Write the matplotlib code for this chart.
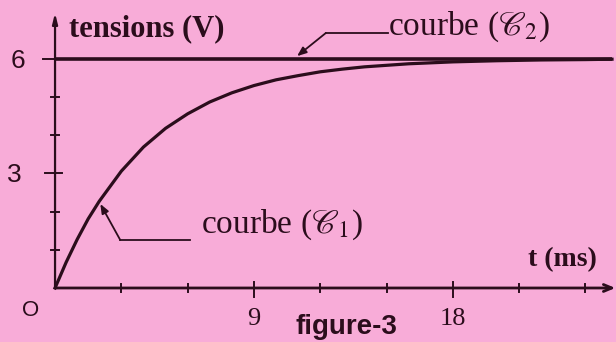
import matplotlib
matplotlib.use("Agg")
import matplotlib.pyplot as plt

# valeurs
t_c1 = [0, 0.5, 1, 1.5, 2, 3, 4, 5, 6, 7, 8, 9, 10, 11, 12, 13, 14, 15, 16, 18, 20, 22, 24, 25.2]
u_c1 = [0, 0.67, 1.27, 1.81, 2.27, 3.06, 3.69, 4.18, 4.56, 4.87, 5.11, 5.30, 5.45, 5.56,
        5.66, 5.73, 5.79, 5.83, 5.87, 5.92, 5.95, 5.97, 5.98, 5.99]
t_c2 = [0, 25.2]
u_c2 = [6, 6]

x_minor = [3, 6, 12, 15, 21, 24]
x_major = [9, 18]
x_labels = ["9", "18"]
y_minor = [1, 2, 4, 5]
y_major = [3, 6]
y_labels = ["3", "6"]

fond = "#f8acd8"
encre = "#2b0d1c"

plt.rcParams["mathtext.fontset"] = "stix"

fig = plt.figure(figsize=(6.16, 3.42), dpi=100)
fig.patch.set_facecolor(fond)
ax = fig.add_axes([0, 0, 1, 1])
ax.set_facecolor(fond)
ax.set_xlim(-2.49, 25.38)
ax.set_ylim(-1.414, 7.54)
ax.axis("off")

# axes avec fleches
ax.annotate("", xy=(0, 7.2), xytext=(0, 0),
            arrowprops=dict(arrowstyle="-|>,head_width=0.15,head_length=0.6",
                            color=encre, lw=1.6, shrinkA=0, shrinkB=0))
ax.annotate("", xy=(25.35, 0), xytext=(0, 0),
            arrowprops=dict(arrowstyle="->,head_width=0.25,head_length=0.6",
                            color=encre, lw=2.0, shrinkA=0, shrinkB=0))

# graduations
for xv in x_minor:
    ax.plot([xv, xv], [-0.1, 0.1], color=encre, lw=1.4)
for xv, lab in zip(x_major, x_labels):
    ax.plot([xv, xv], [-0.24, 0.16], color=encre, lw=1.4)
    ax.text(xv, -0.8, lab, ha="center", va="center", fontsize=19,
            family="Liberation Serif", color=encre)
for yv in y_minor:
    ax.plot([-0.18, 0.18], [yv, yv], color=encre, lw=1.4)
ax.plot([-0.45, 0.32], [3, 3], color=encre, lw=1.4)
ax.plot([-0.55, 0], [6, 6], color=encre, lw=1.4)
ax.text(-1.85, 3 - 0.05, y_labels[0], ha="center", va="center", fontsize=19,
        family="Liberation Sans", color=encre)
ax.text(-1.7, 6 - 0.05, y_labels[1], ha="center", va="center", fontsize=19,
        family="Liberation Sans", color=encre)
ax.text(-1.1, -0.6, "O", ha="center", va="center", fontsize=16,
        family="Liberation Sans", color=encre)

# courbes
ax.plot(t_c2, u_c2, color=encre, lw=2.6, solid_capstyle="butt")
ax.plot(t_c1, u_c1, color=encre, lw=2.3)

# titres des axes
ax.text(0.65, 6.8, "tensions (V)", ha="left", va="center", fontsize=22,
        family="Liberation Serif", weight="bold", color=encre)
ax.text(21.4, 0.74, "t (ms)", ha="left", va="center", fontsize=20,
        family="Liberation Serif", weight="bold", color=encre)

# legendes des courbes
ax.plot([15.05, 12.25], [6.675, 6.675], color=encre, lw=1.3)
ax.annotate("", xy=(10.95, 6.07), xytext=(12.25, 6.675),
            arrowprops=dict(arrowstyle="-|>,head_width=0.22,head_length=0.55",
                            color=encre, lw=1.3, shrinkA=0, shrinkB=0))
ax.text(15.05, 6.83, r"courbe ($\mathscr{C}_2$)", ha="left", va="center",
        fontsize=24, family="Liberation Serif", color=encre)

ax.plot([6.1, 2.95], [1.257, 1.257], color=encre, lw=1.3)
ax.annotate("", xy=(2.05, 2.2), xytext=(2.95, 1.257),
            arrowprops=dict(arrowstyle="-|>,head_width=0.22,head_length=0.55",
                            color=encre, lw=1.3, shrinkA=0, shrinkB=0))
ax.text(6.6, 1.65, r"courbe ($\mathscr{C}_1$)", ha="left", va="center",
        fontsize=24, family="Liberation Serif", color=encre)

ax.text(13.2, -1.03, "figure-3", ha="center", va="center", fontsize=20,
        family="Liberation Sans", weight="bold", color=encre)

fig.savefig("out.png", dpi=100, facecolor=fond)
